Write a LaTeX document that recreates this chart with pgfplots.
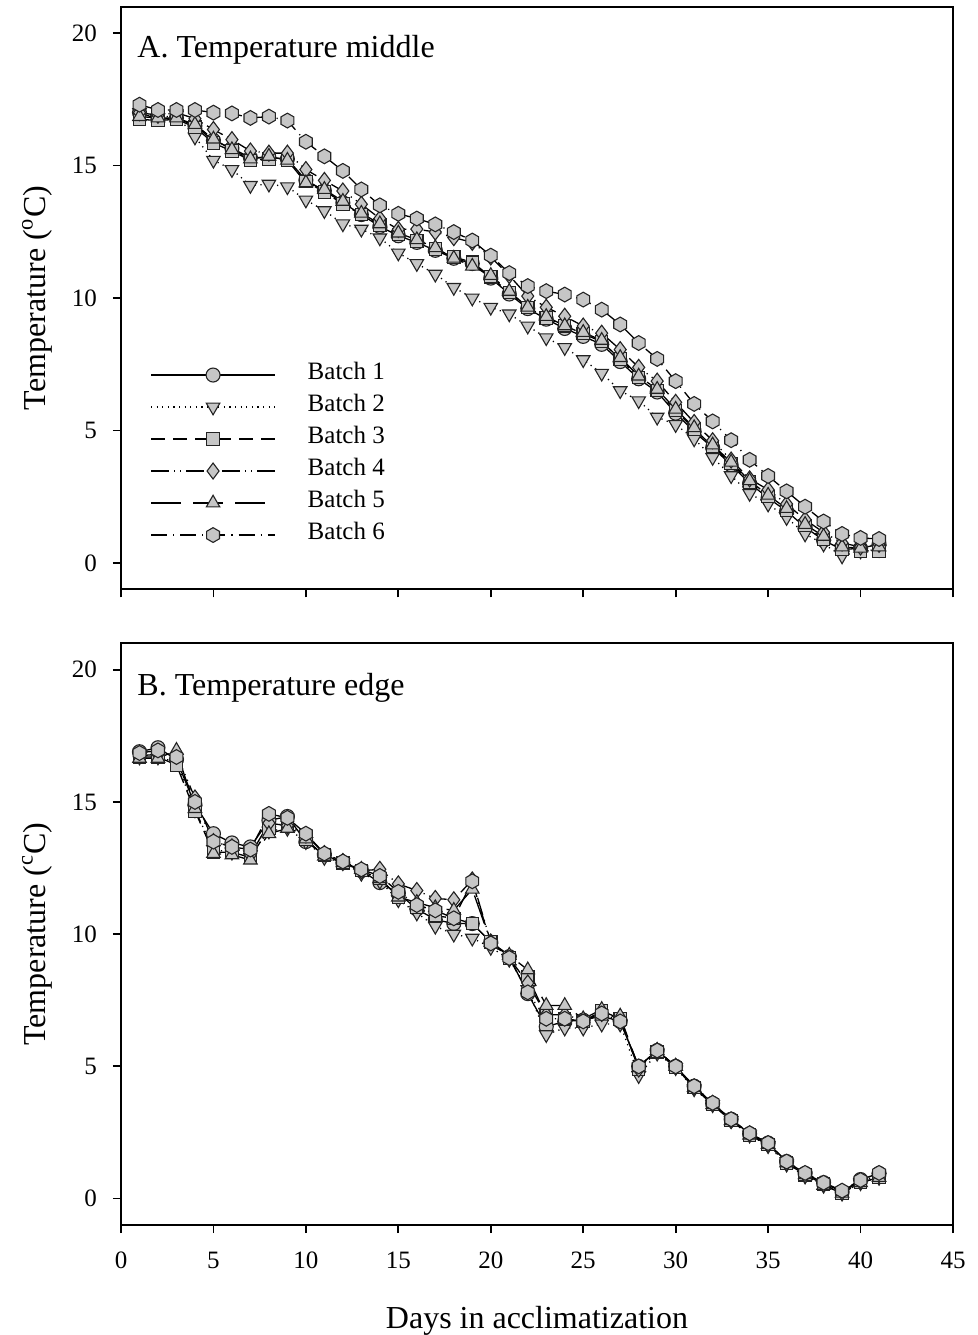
\documentclass[border=0pt]{standalone}
\usepackage{fontspec}
\setmainfont{Liberation Serif}
\usepackage{pgfplots}
\usepackage{pgfplotstable}
\pgfplotsset{compat=1.18}
\usetikzlibrary{plotmarks}

\definecolor{mfill}{RGB}{198,198,198}
\definecolor{mdraw}{RGB}{35,35,35}

\newcommand{\tickfont}{\fontsize{12.5}{14}\selectfont}
\newcommand{\labelfont}{\fontsize{16}{19}\selectfont}

% filled hexagon marker
\pgfdeclareplotmark{hexagon*}{%
  \pgfpathmoveto{\pgfpointpolar{30}{\pgfplotmarksize}}%
  \pgfpathlineto{\pgfpointpolar{90}{\pgfplotmarksize}}%
  \pgfpathlineto{\pgfpointpolar{150}{\pgfplotmarksize}}%
  \pgfpathlineto{\pgfpointpolar{210}{\pgfplotmarksize}}%
  \pgfpathlineto{\pgfpointpolar{270}{\pgfplotmarksize}}%
  \pgfpathlineto{\pgfpointpolar{330}{\pgfplotmarksize}}%
  \pgfpathclose
  \pgfusepathqfillstroke}

% middle temperature, days 1-41
\pgfplotstableread{
day b1 b2 b3 b4 b5 b6
1 17.0 17.0 16.75 17.0 16.85 17.3
2 16.75 16.8 16.7 16.9 16.8 17.1
3 16.8 16.9 16.75 17.0 16.8 17.1
4 16.5 16.08 16.45 16.77 16.55 17.1
5 15.95 15.2 15.85 16.36 16.0 17.0
6 15.65 14.85 15.55 15.98 15.6 16.97
7 15.3 14.25 15.2 15.55 15.25 16.8
8 15.3 14.3 15.25 15.47 15.35 16.85
9 15.25 14.2 15.2 15.47 15.2 16.7
10 14.45 13.7 14.4 14.85 14.35 15.9
11 14.05 13.3 14.0 14.44 14.1 15.35
12 13.6 12.8 13.55 14.04 13.65 14.8
13 13.15 12.6 13.15 13.54 13.2 14.1
14 12.7 12.27 12.75 13.0 12.8 13.5
15 12.35 11.7 12.4 12.59 12.45 13.18
16 12.1 11.3 12.15 12.6 12.2 13.0
17 11.8 10.9 11.85 12.49 11.9 12.78
18 11.5 10.4 11.55 12.28 11.5 12.49
19 11.3 10.0 11.35 12.1 11.2 12.17
20 10.75 9.65 10.8 11.55 10.85 11.6
21 10.15 9.4 10.2 10.85 10.25 10.94
22 9.6 8.94 9.65 10.07 9.65 10.45
23 9.2 8.5 9.25 9.65 9.3 10.26
24 8.85 8.13 8.95 9.31 8.95 10.13
25 8.55 7.67 8.65 8.94 8.7 9.94
26 8.25 7.16 8.35 8.67 8.4 9.56
27 7.6 6.5 7.7 8.05 7.75 9.0
28 6.95 6.12 7.0 7.38 7.05 8.3
29 6.45 5.5 6.5 6.86 6.55 7.7
30 5.65 5.22 5.75 6.06 5.8 6.86
31 4.95 4.68 5.05 5.3 5.1 6.0
32 4.35 3.98 4.4 4.61 4.45 5.34
33 3.7 3.29 3.75 3.88 3.8 4.63
34 3.0 2.62 3.05 3.17 3.1 3.89
35 2.45 2.22 2.5 2.76 2.55 3.28
36 1.95 1.71 2.0 2.22 2.05 2.7
37 1.35 1.09 1.4 1.63 1.45 2.12
38 0.85 0.71 0.9 1.15 1.0 1.56
39 0.5 0.26 0.5 0.75 0.6 1.09
40 0.55 0.45 0.45 0.6 0.55 0.94
41 0.7 0.5 0.45 0.7 0.6 0.9
}\middletable

% edge temperature, days 1-41
\pgfplotstableread{
day b1 b2 b3 b4 b5 b6
1 16.9 16.7 16.7 16.75 16.65 16.85
2 17.05 16.7 16.7 16.8 16.65 16.95
3 16.6 16.5 16.4 16.8 16.95 16.7
4 14.9 14.7 14.65 15.15 14.75 15.0
5 13.8 13.2 13.1 13.5 13.05 13.5
6 13.45 13.1 13.1 13.3 13.0 13.3
7 13.3 13.0 12.9 13.0 12.8 13.2
8 14.3 13.9 14.0 14.2 13.8 14.55
9 14.45 14.0 14.1 14.1 14.0 14.4
10 13.5 13.5 13.6 13.75 13.6 13.8
11 13.0 12.9 13.0 13.05 12.95 13.05
12 12.7 12.7 12.7 12.75 12.7 12.75
13 12.4 12.3 12.4 12.4 12.45 12.45
14 11.95 12.0 12.1 12.45 12.1 12.2
15 11.55 11.3 11.4 11.9 11.4 11.6
16 10.95 10.8 11.0 11.65 11.2 11.1
17 10.55 10.3 10.7 11.35 11.0 10.9
18 10.4 10.0 10.6 11.3 10.9 10.6
19 10.4 9.85 10.4 12.05 11.7 12.0
20 9.7 9.5 9.7 9.7 9.7 9.65
21 9.15 9.05 9.1 9.1 9.2 9.1
22 7.75 7.9 8.4 8.15 8.65 7.8
23 6.5 6.2 6.9 6.95 7.3 6.8
24 6.7 6.45 6.8 6.95 7.3 6.8
25 6.75 6.45 6.7 6.75 6.8 6.7
26 6.9 6.6 7.1 7.0 7.15 7.0
27 6.7 6.6 6.8 6.8 6.9 6.7
28 5.0 4.65 4.9 4.9 4.95 5.0
29 5.6 5.5 5.55 5.6 5.6 5.6
30 5.0 4.95 4.95 5.0 5.0 5.0
31 4.25 4.15 4.2 4.2 4.2 4.25
32 3.6 3.55 3.55 3.6 3.55 3.62
33 3.0 2.95 2.95 2.95 2.95 3.0
34 2.45 2.4 2.4 2.45 2.4 2.47
35 2.1 2.0 2.05 2.05 2.05 2.1
36 1.4 1.3 1.35 1.35 1.35 1.4
37 0.95 0.85 0.9 0.9 0.9 0.97
38 0.6 0.5 0.55 0.55 0.5 0.6
39 0.25 0.2 0.2 0.25 0.2 0.3
40 0.72 0.6 0.6 0.65 0.6 0.7
41 0.95 0.8 0.8 0.9 0.8 0.97
}\edgetable

\tikzset{
  markbase/.style={solid, fill=mfill, draw=mdraw, line width=0.55pt},
  b1/.style={black, line width=0.65pt, solid, mark=*, mark size=3.5pt, mark options={markbase}},
  b2/.style={black, line width=0.65pt, dash pattern=on 0.6pt off 2.2pt, mark=triangle*, mark size=3.9pt, mark options={markbase, rotate=180}},
  b3/.style={black, line width=0.65pt, dash pattern=on 7pt off 4pt, mark=square*, mark size=3.1pt, mark options={markbase}},
  b4/.style={black, line width=0.65pt, dash pattern=on 9pt off 2.5pt on 0.6pt off 2.5pt on 0.6pt off 2.5pt, mark=diamond*, mark size=4pt, mark options={markbase}},
  b5/.style={black, line width=0.65pt, dash pattern=on 15pt off 6pt, mark=triangle*, mark size=3.9pt, mark options={markbase}},
  b6/.style={black, line width=0.65pt, dash pattern=on 8pt off 3pt on 0.6pt off 3pt, mark=hexagon*, mark size=3.7pt, mark options={markbase}},
}

\pgfplotsset{
  panel/.style={
    scale only axis,
    width=416pt,
    xmin=0, xmax=45, ymin=-1, ymax=21,
    xtick={0,5,...,45},
    ytick={0,5,10,15,20},
    tick align=outside,
    xtick pos=bottom, ytick pos=left,
    major tick length=4pt,
    axis line style={line width=0.9pt},
    every tick/.style={black, line width=0.9pt},
    tick label style={font=\tickfont},
    /pgf/number format/assume math mode=true,
    xticklabel style={yshift=-6pt},
    yticklabel style={xshift=-4.5pt},
    label style={font=\labelfont},
    ylabel style={at={(axis description cs:-0.101,0.5)}, anchor=center},
    clip=false,
  },
}

\begin{document}
\begin{tikzpicture}
\useasboundingbox (0,0) rectangle (489pt,667.5pt);

\begin{axis}[panel,
  at={(60.5pt,372.85pt)}, anchor=south west,
  height=291.3pt,
  xticklabels={},
  ylabel={Temperature (\textsuperscript{o}C)},
  legend style={at={(axis cs:1.57,7.71)}, anchor=north west, draw=none, fill=none,
    inner sep=0pt, row sep=0pt,
    font=\tickfont,
    nodes={inner sep=0pt, text height=10pt, text depth=6pt},
    /tikz/every odd column/.append style={column sep=16pt}},
  legend cell align=left,
  legend image code/.code={\draw[mark repeat=2, mark phase=2, #1] plot coordinates {(0pt,0pt) (31pt,0pt) (62pt,0pt)};},
]
\addplot[b1] table[x=day, y=b1] {\middletable};
\addlegendentry{Batch 1}
\addplot[b2] table[x=day, y=b2] {\middletable};
\addlegendentry{Batch 2}
\addplot[b3] table[x=day, y=b3] {\middletable};
\addlegendentry{Batch 3}
\addplot[b4] table[x=day, y=b4] {\middletable};
\addlegendentry{Batch 4}
\addplot[b5] table[x=day, y=b5] {\middletable};
\addlegendentry{Batch 5}
\addplot[b6] table[x=day, y=b6] {\middletable};
\addlegendentry{Batch 6}
\node[anchor=base west, inner sep=0pt, font=\labelfont] at (axis cs:0.87,19.07) {A. Temperature middle};
\end{axis}

\begin{axis}[panel,
  at={(60.5pt,55pt)}, anchor=south west,
  height=290.85pt,
  xlabel={Days in acclimatization},
  xlabel style={at={(axis description cs:0.5,-0.165)}, anchor=center},
  ylabel={Temperature (\textsuperscript{c}C)},
]
\addplot[b1] table[x=day, y=b1] {\edgetable};
\addplot[b2] table[x=day, y=b2] {\edgetable};
\addplot[b3] table[x=day, y=b3] {\edgetable};
\addplot[b4] table[x=day, y=b4] {\edgetable};
\addplot[b5] table[x=day, y=b5] {\edgetable};
\addplot[b6] table[x=day, y=b6] {\edgetable};
\node[anchor=base west, inner sep=0pt, font=\labelfont] at (axis cs:0.87,19.04) {B. Temperature edge};
\end{axis}
\end{tikzpicture}
\end{document}
